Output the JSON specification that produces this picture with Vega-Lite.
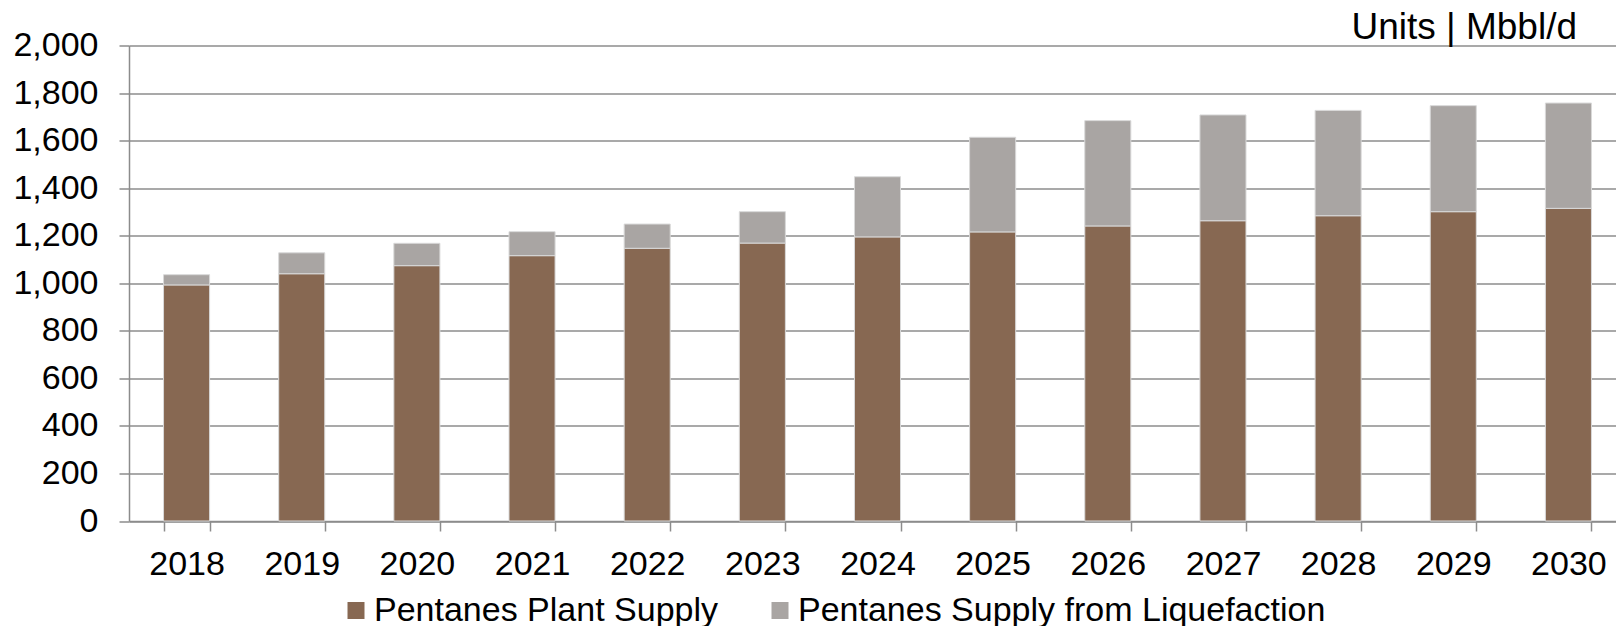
{
  "$schema": "https://vega.github.io/schema/vega-lite/v6.json",
  "autosize": {"type": "none"},
  "padding": {"left": 129, "top": 45.5, "right": 0, "bottom": 105},
  "width": 1487,
  "height": 475.5,
  "background": "white",
  "config": {"view": {"stroke": null}, "font": "Liberation Sans"},
  "title": {
    "text": "Units | Mbbl/d",
    "anchor": "end",
    "frame": "group",
    "fontSize": 37,
    "fontWeight": "normal",
    "font": "Liberation Sans",
    "color": "black",
    "dx": -39,
    "offset": -47,
    "baseline": "alphabetic"
  },
  "data": {
    "values": [
      {"year": "2018", "series": "Pentanes Plant Supply", "value": 993},
      {"year": "2019", "series": "Pentanes Plant Supply", "value": 1040},
      {"year": "2020", "series": "Pentanes Plant Supply", "value": 1074},
      {"year": "2021", "series": "Pentanes Plant Supply", "value": 1116},
      {"year": "2022", "series": "Pentanes Plant Supply", "value": 1147},
      {"year": "2023", "series": "Pentanes Plant Supply", "value": 1169},
      {"year": "2024", "series": "Pentanes Plant Supply", "value": 1195},
      {"year": "2025", "series": "Pentanes Plant Supply", "value": 1216},
      {"year": "2026", "series": "Pentanes Plant Supply", "value": 1241},
      {"year": "2027", "series": "Pentanes Plant Supply", "value": 1263},
      {"year": "2028", "series": "Pentanes Plant Supply", "value": 1284},
      {"year": "2029", "series": "Pentanes Plant Supply", "value": 1301},
      {"year": "2030", "series": "Pentanes Plant Supply", "value": 1315},
      {"year": "2018", "series": "Pentanes Supply from Liquefaction", "value": 43},
      {"year": "2019", "series": "Pentanes Supply from Liquefaction", "value": 88},
      {"year": "2020", "series": "Pentanes Supply from Liquefaction", "value": 94},
      {"year": "2021", "series": "Pentanes Supply from Liquefaction", "value": 101},
      {"year": "2022", "series": "Pentanes Supply from Liquefaction", "value": 102},
      {"year": "2023", "series": "Pentanes Supply from Liquefaction", "value": 132},
      {"year": "2024", "series": "Pentanes Supply from Liquefaction", "value": 253},
      {"year": "2025", "series": "Pentanes Supply from Liquefaction", "value": 398},
      {"year": "2026", "series": "Pentanes Supply from Liquefaction", "value": 443},
      {"year": "2027", "series": "Pentanes Supply from Liquefaction", "value": 445},
      {"year": "2028", "series": "Pentanes Supply from Liquefaction", "value": 443},
      {"year": "2029", "series": "Pentanes Supply from Liquefaction", "value": 446},
      {"year": "2030", "series": "Pentanes Supply from Liquefaction", "value": 443}
    ]
  },
  "mark": {"type": "bar", "stroke": "#d9d9d9", "strokeWidth": 1},
  "encoding": {
    "x": {
      "field": "year",
      "type": "ordinal",
      "scale": {"range": [0, 1497], "paddingInner": 0.6, "paddingOuter": 0.3},
      "axis": {
        "title": null,
        "labelAngle": 0,
        "labelFontSize": 34,
        "labelColor": "black",
        "labelFont": "Liberation Sans",
        "tickBand": "extent",
        "tickSize": 10,
        "tickColor": "#8c8c8c",
        "tickWidth": 1.5,
        "domainColor": "#8c8c8c",
        "domainWidth": 1.5,
        "labelPadding": 16,
        "grid": false
      }
    },
    "y": {
      "field": "value",
      "type": "quantitative",
      "stack": "zero",
      "scale": {"domain": [0, 2000]},
      "axis": {
        "title": null,
        "values": [0, 200, 400, 600, 800, 1000, 1200, 1400, 1600, 1800, 2000],
        "format": ",.0f",
        "labelFontSize": 34,
        "labelColor": "black",
        "labelFont": "Liberation Sans",
        "tickSize": 10,
        "tickColor": "#8c8c8c",
        "tickWidth": 1.5,
        "domainColor": "#8c8c8c",
        "domainWidth": 1.5,
        "labelPadding": 21,
        "grid": true,
        "gridColor": "#8c8c8c",
        "gridWidth": 1.5,
        "gridOpacity": 1
      }
    },
    "order": {"field": "series", "sort": "ascending"},
    "color": {
      "field": "series",
      "type": "nominal",
      "scale": {
        "domain": ["Pentanes Plant Supply", "Pentanes Supply from Liquefaction"],
        "range": ["#876852", "#a9a5a3"]
      },
      "legend": {
        "orient": "none",
        "legendX": 210,
        "legendY": 548,
        "direction": "horizontal",
        "title": null,
        "symbolType": "square",
        "symbolSize": 289,
        "symbolStrokeWidth": 0,
        "symbolOpacity": 1,
        "labelFontSize": 34,
        "labelFont": "Liberation Sans",
        "labelColor": "black",
        "labelOffset": 1,
        "columnPadding": 44,
        "padding": 0,
        "labelLimit": 0
      }
    }
  }
}
